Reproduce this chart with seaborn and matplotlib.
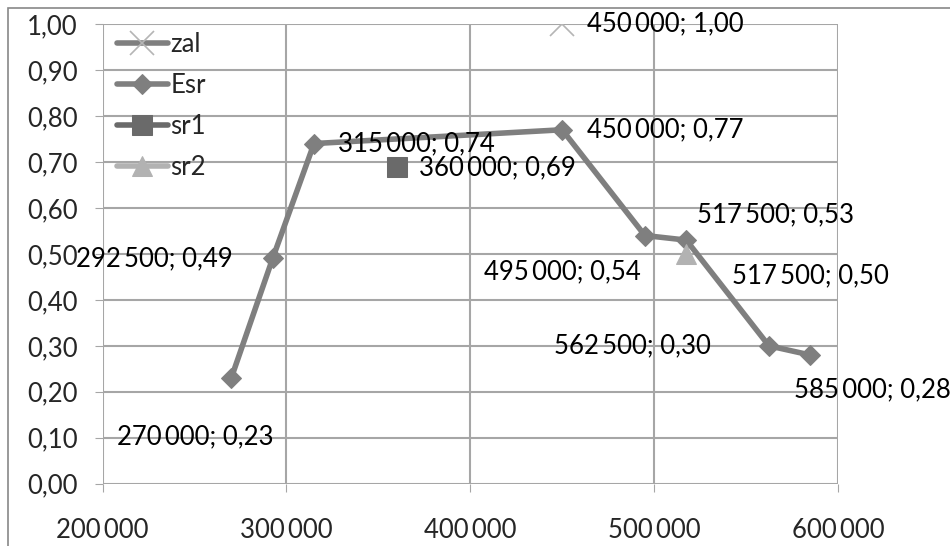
import numpy as np
import pandas as pd
import matplotlib.pyplot as plt
import matplotlib.patches as mpatches
import seaborn as sns

# data
esr_x = [270000, 292500, 315000, 450000, 495000, 517500, 562500, 585000]
esr_y = [0.23, 0.49, 0.74, 0.77, 0.54, 0.53, 0.30, 0.28]
zal_x = [450000]
zal_y = [1.00]
sr1_x = [360000]
sr1_y = [0.69]
sr2_x = [517500]
sr2_y = [0.50]

sns.set_style("white")
plt.rcParams['font.family'] = ['Lato', 'DejaVu Sans']
FS = 18.5

fig = plt.figure(figsize=(9.5, 5.46), dpi=100)
ax = fig.add_axes([0.108, 0.114, 0.774, 0.842])

sns.lineplot(x=zal_x, y=zal_y, ax=ax, color="#7f7f7f", lw=4, marker="x", markersize=17,
             markeredgecolor="#b5b5b5", markeredgewidth=1.2, label="zal")
sns.lineplot(x=esr_x, y=esr_y, ax=ax, color="#7f7f7f", lw=4, marker="D", markersize=10,
             markeredgecolor="#7f7f7f", label="Esr")
sns.lineplot(x=sr1_x, y=sr1_y, ax=ax, color="#6a6a6a", lw=4, marker="s", markersize=15,
             markeredgecolor="#6a6a6a", label="sr1")
sns.lineplot(x=sr2_x, y=sr2_y, ax=ax, color="#b2b2b2", lw=4, marker="^", markersize=14,
             markeredgecolor="#b2b2b2", label="sr2")


def fmt(x, y):
    s = f"{x:,}".replace(",", "\u2009")
    return f"{s}; {y:.2f}".replace(".", ",")


# label offsets (points) relative to each marker
labels = [
    (zal_x[0], zal_y[0], 18, 0, "left", "center"),
    (esr_x[0], esr_y[0], -82, -42, "left", "center"),
    (esr_x[1], esr_y[1], -29, 0, "right", "center"),
    (esr_x[2], esr_y[2], 17, 0, "left", "center"),
    (esr_x[3], esr_y[3], 18, 0, "left", "center"),
    (esr_x[4], esr_y[4], -3, -26, "right", "center"),
    (esr_x[5], esr_y[5], 8, 18, "left", "center"),
    (esr_x[6], esr_y[6], -42, 0, "right", "center"),
    (esr_x[7], esr_y[7], -12, -25, "left", "center"),
    (sr1_x[0], sr1_y[0], 16, -1, "left", "center"),
    (sr2_x[0], sr2_y[0], 33, -16, "left", "center"),
]
for x, y, dx, dy, ha, va in labels:
    ax.annotate(fmt(x, y), (x, y), xytext=(dx, dy), textcoords="offset points",
                ha=ha, va=va, fontsize=FS, color="black", annotation_clip=False)

ax.set_xlim(200000, 600000)
ax.set_ylim(0, 1)
ax.set_xticks([200000, 300000, 400000, 500000, 600000])
ax.set_xticklabels(["200\u2009000", "300\u2009000", "400\u2009000", "500\u2009000", "600\u2009000"])
ax.set_yticks(np.arange(0, 1.01, 0.1))
ax.set_yticklabels([f"{v:.2f}".replace(".", ",") for v in np.arange(0, 1.01, 0.1)])
ax.grid(True, color="#a6a6a6", lw=1.5)
for s in ax.spines.values():
    s.set_visible(False)
ax.tick_params(axis="x", length=6, color="#a6a6a6", labelsize=FS, pad=19)
ax.tick_params(axis="y", length=6, color="#a6a6a6", labelsize=FS, pad=12)
ax.tick_params(bottom=True, left=True)
ax.set_xlabel("")
ax.set_ylabel("")

leg = ax.legend(loc="upper left", frameon=False, fontsize=FS, handlelength=2.0,
                handletextpad=0.1, labelspacing=0.62, borderaxespad=0.0,
                bbox_to_anchor=(0.005, 1.005))

fig.patches.append(mpatches.Rectangle((8 / 950, -0.05), 1.2, 1.05 - 8 / 546, transform=fig.transFigure,
                                      fill=False, edgecolor="#888888", lw=1.2))

fig.savefig("out.png", dpi=100)
